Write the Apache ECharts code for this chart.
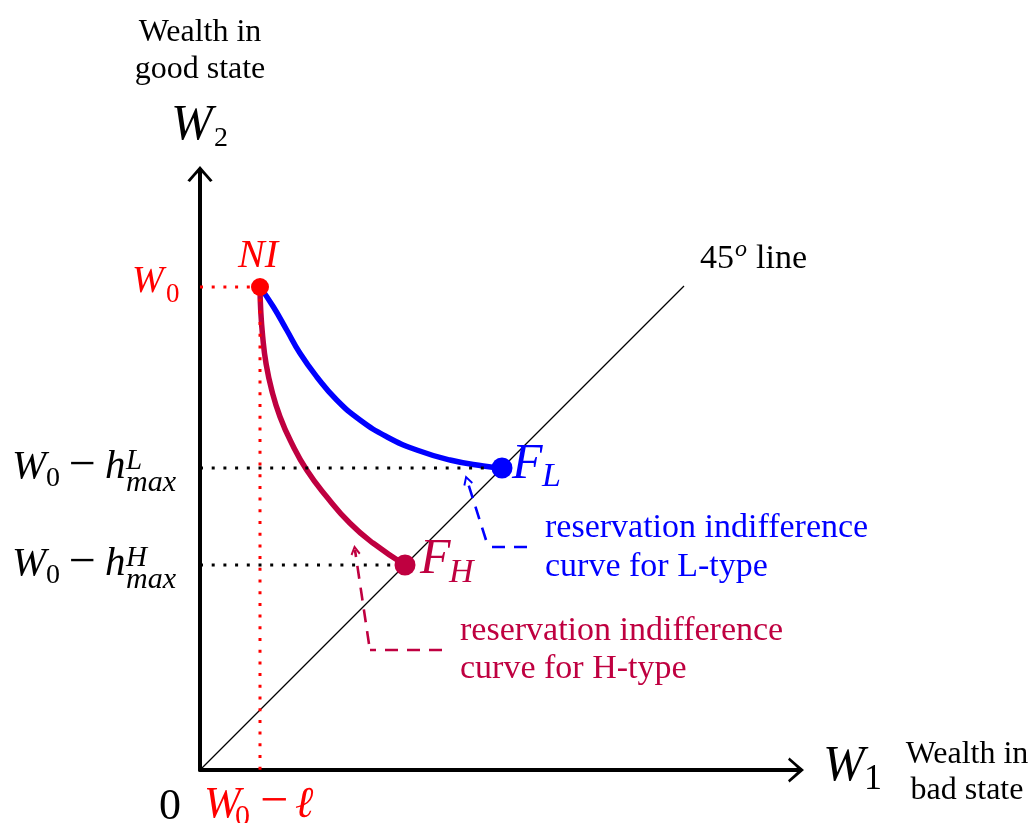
<!DOCTYPE html>
<html><head><meta charset="utf-8">
<script src="https://cdn.jsdelivr.net/npm/echarts@6/dist/echarts.min.js"></script>
<style>html,body{margin:0;padding:0;background:#fff}#c{width:1035px;height:823px}</style>
</head><body><div id="c"></div>
<script>
// ---- data (axis units) ----
const axisMax = 60;
const W0 = 48.3;
const W0minusL = 6.0;
const pointNI = [6.0, 48.3];
const pointFL = [30.2, 30.2];
const pointFH = [20.5, 20.5];
const curveL = [[6.0,48.3],[7.33,46.33],[8.67,44.0],[10.0,41.67],[11.67,39.33],[13.67,37.0],[16.0,35.0],[18.67,33.33],[21.67,32.0],[25.0,31.0],[28.33,30.4],[30.2,30.2]];
const curveH = [[6.0,48.3],[6.07,46.0],[6.27,43.33],[6.6,40.67],[7.17,38.0],[8.0,35.33],[9.17,32.67],[10.67,30.0],[12.67,27.33],[15.0,24.67],[17.33,22.67],[20.5,20.5]];
const line45 = [[0,0],[48.4,48.4]];
const noteL = [[32.7,22.3],[28.8,22.3]];
const noteLArrow = [[28.6,23.0],[26.7,29.0]];
const noteH = [[24.2,12.0],[17.0,12.0]];
const noteHArrow = [[16.9,12.6],[15.5,22.0]];
const noteLText = ['reservation indifference', 'curve for L-type'];
const noteHText = ['reservation indifference', 'curve for H-type'];

const RED = '#FF0000', BLUE = '#0000FF', PURPLE = '#BF0040', BLACK = '#000000';
const FONT = '"Liberation Serif", "Times New Roman", serif';
const axisArrow = 'path://M0,15 Q7,7 13,0 Q19,7 26,15 L23.5,16.5 Q18,10 13,5 Q8,10 2.5,16.5 Z';
const smallArrow = 'path://M0,8 L6,0 L12,8 L10,9 L6,3.6 L2,9 Z';

const chart = echarts.init(document.getElementById('c'), null, {renderer: 'canvas'});

function axisCfg() {
  return {
    type: 'value', min: 0, max: axisMax,
    axisLine: { show: true, onZero: false, lineStyle: { color: BLACK, width: 4 },
      symbol: ['none', axisArrow], symbolSize: [26, 16], symbolOffset: [0, -4] },
    axisTick: { show: false }, axisLabel: { show: false }, splitLine: { show: false }
  };
}
function guide(data, color) {
  return { type: 'line', data: data, symbol: 'none', silent: true, z: 4,
    lineStyle: { color: color, width: 3, type: [3, 8.7], cap: 'butt' } };
}
function dashed(data, color) {
  return { type: 'line', data: data, symbol: 'none', silent: true, z: 3,
    lineStyle: { color: color, width: 2.6, type: [13, 9] } };
}
function arrow(data, color) {
  return { type: 'lines', coordinateSystem: 'cartesian2d', silent: true, z: 3,
    symbol: ['none', smallArrow], symbolSize: [15, 10],
    lineStyle: { color: color, width: 2.6, type: [13, 9], opacity: 1, curveness: 0 },
    data: [{ coords: data }] };
}

chart.setOption({
  animation: false,
  backgroundColor: '#fff',
  grid: { left: 200, top: 170, width: 600, height: 600, containLabel: false, outerBoundsMode: 'none' },
  xAxis: axisCfg(),
  yAxis: axisCfg(),
  series: [
    { type: 'line', data: line45, symbol: 'none', silent: true, z: 1, lineStyle: { color: BLACK, width: 1.2 } },
    { type: 'line', data: curveL, smooth: 0.5, symbol: 'none', z: 2, lineStyle: { color: BLUE, width: 5.5 } },
    { type: 'line', data: curveH, smooth: 0.5, symbol: 'none', z: 2, lineStyle: { color: PURPLE, width: 5.5 } },
    guide([[0, W0], pointNI], RED),
    guide([pointNI, [W0minusL, 0]], RED),
    guide([[0, pointFL[1]], pointFL], BLACK),
    guide([[0, pointFH[1]], pointFH], BLACK),
    dashed(noteL, BLUE), arrow(noteLArrow, BLUE),
    dashed(noteH, PURPLE), arrow(noteHArrow, PURPLE),
    { type: 'scatter', data: [pointNI], symbolSize: 18, z: 6, itemStyle: { color: RED, opacity: 1 } },
    { type: 'scatter', data: [pointFL], symbolSize: 21, z: 6, itemStyle: { color: BLUE, opacity: 1 } },
    { type: 'scatter', data: [pointFH], symbolSize: 21, z: 6, itemStyle: { color: PURPLE, opacity: 1 } }
  ]
});

const px = p => chart.convertToPixel({ xAxisIndex: 0, yAxisIndex: 0 }, p);
const A = {
  yTop: px([0, axisMax]), xEnd: px([axisMax, 0]), O: px([0, 0]),
  rowW0: px([0, W0]), colL: px([W0minusL, 0]), NI: px(pointNI),
  rowL: px([0, pointFL[1]]), rowH: px([0, pointFH[1]]),
  FL: px(pointFL), FH: px(pointFH), l45: px(line45[1]),
  nL: px(noteL[0]), nH: px(noteH[0])
};
// [anchor, dx, dyBaseline, text, size, italic, color, align]
const pieces = [
  ['yTop', 0, -127, 'Wealth in', 32, false, BLACK, 'center'],
  ['yTop', 0, -90, 'good state', 32, false, BLACK, 'center'],
  ['yTop', -29, -27, 'W', 50, true, BLACK],
  ['yTop', 14, -22, '2', 28, false, BLACK],
  ['xEnd', 23, 14, 'W', 50, true, BLACK],
  ['xEnd', 64, 22, '1', 36, false, BLACK],
  ['xEnd', 167, -5, 'Wealth in', 32, false, BLACK, 'center'],
  ['xEnd', 167, 31, 'bad state', 32, false, BLACK, 'center'],
  ['O', -30, 52, '0', 44, false, BLACK, 'center'],
  ['colL', -56, 50, 'W', 44, true, RED],
  ['colL', -25, 57, '0', 30, false, RED],
  ['colL', 14, 50, '\u2212', 50, false, RED, 'center'],
  ['colL', 35, 50, '\u2113', 44, true, RED],
  ['rowW0', -68, 8, 'W', 38, true, RED],
  ['rowW0', -34, 17, '0', 27, false, RED],
  ['NI', -2, -17, 'NI', 40, true, RED, 'center'],
  ['FL', 10, 14, 'F', 50, true, BLUE],
  ['FL', 40, 21, 'L', 34, true, BLUE],
  ['FH', 15, 12, 'F', 50, true, PURPLE],
  ['FH', 44, 20, 'H', 34, true, PURPLE],
  ['l45', 16, -15, '45', 34, false, BLACK],
  ['l45', 51, -28, 'o', 24, true, BLACK],
  ['l45', 72, -15, 'line', 34, false, BLACK],
  ['nL', 18, -7, noteLText[0], 34, false, BLUE],
  ['nL', 18, 32, noteLText[1], 34, false, BLUE],
  ['nH', 18, -7, noteHText[0], 34, false, PURPLE],
  ['nH', 18, 31, noteHText[1], 34, false, PURPLE]
];
['rowL', 'rowH'].forEach((r, i) => {
  const sup = i === 0 ? 'L' : 'H';
  pieces.push([r, -188, 13, 'W', 41, true, BLACK]);
  pieces.push([r, -154, 20, '0', 28, false, BLACK]);
  pieces.push([r, -118, 15, '\u2212', 48, false, BLACK, 'center']);
  pieces.push([r, -95, 13, 'h', 41, true, BLACK]);
  pieces.push([r, -74, 3, sup, 29, true, BLACK]);
  pieces.push([r, -74, 25, 'max', 30, true, BLACK]);
});
const graphics = pieces.map(p => {
  const a = A[p[0]];
  const size = p[4];
  const align = p[7] || 'left';
  return {
    type: 'text', silent: true, z: 100,
    x: a[0] + p[1], y: a[1] + p[2] - 0.3375 * size,
    style: {
      text: p[3], fill: p[6],
      font: (p[5] ? 'italic ' : '') + size + 'px ' + FONT,
      textAlign: align, align: align,
      textVerticalAlign: 'middle', verticalAlign: 'middle'
    }
  };
});
chart.setOption({ graphic: { elements: graphics } });
</script></body></html>
